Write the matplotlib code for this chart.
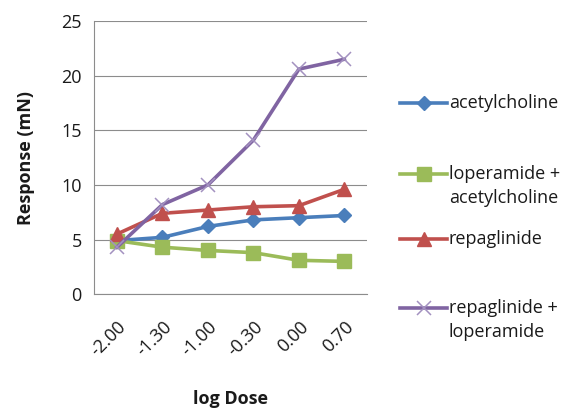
import numpy as np
import matplotlib
matplotlib.use("Agg")
import matplotlib.pyplot as plt
from matplotlib.lines import Line2D

plt.rcParams["font.family"] = ["Open Sans", "DejaVu Sans"]

# data
dose_labels = ["-2.00", "-1.30", "-1.00", "-0.30", "0.00", "0.70"]
acetylcholine = [4.9, 5.2, 6.2, 6.8, 7.0, 7.2]
loperamide_ach = [4.9, 4.3, 4.0, 3.8, 3.1, 3.0]
repaglinide = [5.5, 7.4, 7.7, 8.0, 8.1, 9.6]
repaglinide_lop = [4.3, 8.2, 10.0, 14.1, 20.6, 21.5]

series = [
    ("acetylcholine", None, acetylcholine, "#4A7EBB", "D", 7.5),
    ("loperamide +", "acetylcholine", loperamide_ach, "#9BBB59", "s", 9.5),
    ("repaglinide", None, repaglinide, "#C0504D", "^", 9.5),
    ("repaglinide +", "loperamide", repaglinide_lop, "#8064A2", "x", 10),
]
FS = 13
TXT = "#1a1a1a"

fig = plt.figure(figsize=(5.71, 4.08), dpi=100)
ax = fig.add_axes([0.165, 0.279, 0.478, 0.6695])

x = np.arange(len(dose_labels))
for name, _, vals, col, mk, ms in series:
    if mk == "x":
        ax.plot(x, vals, color=col, lw=2.6, marker=mk, ms=ms, mec="#A391C0", mew=1.1, zorder=3)
    else:
        ax.plot(x, vals, color=col, lw=2.6, marker=mk, ms=ms, zorder=3)

ax.set_xlim(-0.5, len(dose_labels) - 0.5)
ax.set_ylim(0, 25)
ax.set_yticks([0, 5, 10, 15, 20, 25])
ax.set_xticks(x)
ax.set_xticklabels(dose_labels, rotation=45, ha="right", va="top", rotation_mode="anchor")
ax.tick_params(axis="both", length=0, labelsize=FS, colors=TXT)
ax.tick_params(axis="x", pad=17)
ax.tick_params(axis="y", pad=9)
ax.yaxis.grid(True, color="#8C8C8C", lw=0.8)
ax.set_axisbelow(True)
for s in ["top", "right"]:
    ax.spines[s].set_visible(False)
for s in ["left", "bottom"]:
    ax.spines[s].set_color("#8C8C8C")
    ax.spines[s].set_linewidth(0.8)

ax.set_ylabel("Response (mN)", fontsize=FS, fontweight="bold", labelpad=19, color=TXT)
ax.set_xlabel("log Dose", fontsize=FS, fontweight="bold", labelpad=22, color=TXT)

# manual legend, Excel style
leg_y = [103, 174, 239, 308]
for (name, name2, vals, col, mk, ms), yp in zip(series, leg_y):
    yf = 1 - yp / 408
    x0, x1 = 400 / 571, 447 / 571
    if mk == "x":
        h = Line2D([x0, (x0 + x1) / 2, x1], [yf, yf, yf], color=col, lw=2.6, marker=mk, ms=ms,
                   mec="#A391C0", mew=1.1, markevery=[1], transform=fig.transFigure)
    else:
        h = Line2D([x0, (x0 + x1) / 2, x1], [yf, yf, yf], color=col, lw=2.6, marker=mk, ms=ms,
                   markevery=[1], transform=fig.transFigure)
    fig.add_artist(h)
    fig.text(449 / 571, yf, name, fontsize=FS, va="center", ha="left", color=TXT)
    if name2:
        fig.text(449 / 571, yf - 24 / 408, name2, fontsize=FS, va="center", ha="left", color=TXT)

fig.savefig("out.png", dpi=100)
